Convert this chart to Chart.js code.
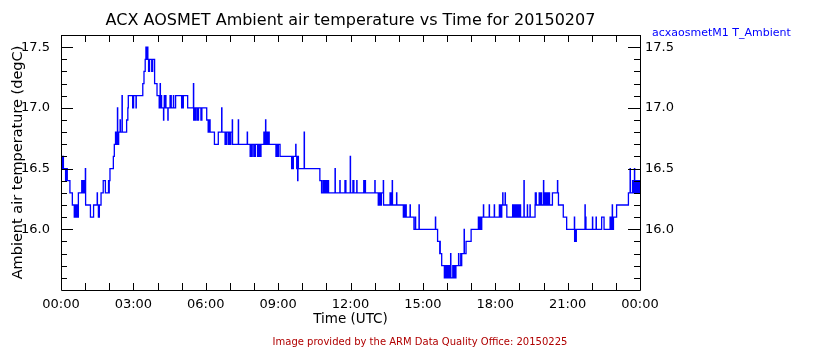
<!DOCTYPE html>
<html>
<head>
<meta charset="utf-8">
<title>ACX AOSMET Ambient air temperature</title>
<script src="https://cdn.jsdelivr.net/npm/chart.js@4.4.1/dist/chart.umd.min.js"></script>
<style>
  html, body { margin: 0; padding: 0; background: #fff; }
  canvas { display: block; }
</style>
</head>
<body>
<canvas id="tempChart" width="840" height="350"></canvas>
<script>
// Axis ticks
const xTickHours = [0, 3, 6, 9, 12, 15, 18, 21, 24];
const xTickLabels = ['00:00', '03:00', '06:00', '09:00', '12:00', '15:00', '18:00', '21:00', '00:00'];
const yTickValues = [16.0, 16.5, 17.0, 17.5];

// acxaosmetM1 T_Ambient, [hour of day (UTC), degC]; each value holds until the next sample
const ambientTemp = [
  [0.00, 16.6], [0.02, 16.5], [0.04, 16.6], [0.06, 16.5], [0.08, 16.6], [0.10, 16.5],
  [0.19, 16.4], [0.21, 16.5], [0.26, 16.4], [0.37, 16.3], [0.47, 16.2], [0.55, 16.1],
  [0.60, 16.2], [0.61, 16.1], [0.63, 16.2], [0.64, 16.1], [0.66, 16.2], [0.67, 16.1],
  [0.72, 16.3], [0.86, 16.4], [0.87, 16.3], [0.92, 16.4], [0.93, 16.3], [0.95, 16.4], [0.96, 16.3],
  [1.01, 16.5], [1.02, 16.2], [1.22, 16.1], [1.35, 16.2], [1.50, 16.3], [1.51, 16.2],
  [1.55, 16.1], [1.56, 16.2], [1.58, 16.1], [1.59, 16.2], [1.66, 16.3], [1.75, 16.4],
  [1.84, 16.3], [1.97, 16.4], [1.99, 16.3], [2.00, 16.4], [2.03, 16.5], [2.17, 16.6], [2.21, 16.7],
  [2.26, 16.8], [2.27, 16.7], [2.29, 16.8], [2.30, 16.7], [2.34, 17.0], [2.35, 16.7], [2.39, 16.8],
  [2.45, 16.9], [2.46, 16.8], [2.53, 17.1], [2.54, 16.8], [2.72, 16.9], [2.77, 17.0], [2.79, 17.1],
  [2.97, 17.0], [2.98, 17.1], [3.00, 17.0], [3.01, 17.1], [3.11, 17.0], [3.12, 17.1],
  [3.39, 17.2], [3.44, 17.3], [3.49, 17.4],
  [3.52, 17.5], [3.53, 17.4], [3.54, 17.5], [3.55, 17.4], [3.56, 17.5], [3.57, 17.4], [3.58, 17.5], [3.60, 17.4],
  [3.63, 17.3], [3.64, 17.4], [3.66, 17.3], [3.67, 17.4], [3.76, 17.3], [3.77, 17.4], [3.79, 17.3], [3.80, 17.4],
  [3.88, 17.2], [3.98, 17.1],
  [4.07, 17.0], [4.08, 17.1], [4.09, 17.0], [4.11, 17.2], [4.12, 17.1], [4.14, 17.0], [4.15, 17.1], [4.17, 17.0],
  [4.25, 16.9], [4.26, 17.0], [4.28, 17.1], [4.29, 17.0], [4.34, 17.1], [4.35, 17.0], [4.43, 16.9], [4.44, 17.0],
  [4.52, 17.1], [4.53, 17.0], [4.54, 17.1], [4.55, 17.0], [4.56, 17.1], [4.57, 17.0], [4.66, 17.1], [4.67, 17.0],
  [4.75, 17.1], [5.00, 17.0], [5.01, 17.1], [5.03, 17.0], [5.04, 17.1], [5.06, 17.0], [5.07, 17.1], [5.25, 17.0],
  [5.49, 17.2], [5.50, 16.9], [5.51, 17.0], [5.53, 16.9], [5.54, 17.0], [5.56, 16.9], [5.57, 17.0],
  [5.63, 16.9], [5.64, 17.0], [5.66, 16.9], [5.67, 17.0], [5.69, 16.9], [5.70, 17.0],
  [5.80, 16.9], [5.81, 17.0], [5.83, 16.9], [5.84, 17.0], [6.04, 16.9],
  [6.10, 16.8], [6.11, 16.9], [6.13, 16.8], [6.14, 16.9], [6.18, 16.8], [6.36, 16.7], [6.52, 16.8],
  [6.66, 17.0], [6.67, 16.8],
  [6.80, 16.7], [6.81, 16.8], [6.83, 16.7], [6.84, 16.8], [6.86, 16.7], [6.87, 16.8],
  [6.94, 16.7], [6.95, 16.8], [6.97, 16.7], [6.98, 16.8], [7.00, 16.7], [7.01, 16.8], [7.03, 16.7], [7.04, 16.8],
  [7.10, 16.9], [7.11, 16.7], [7.35, 16.9], [7.36, 16.7], [7.72, 16.8], [7.73, 16.7],
  [7.84, 16.6], [7.85, 16.7], [7.88, 16.6], [7.89, 16.7], [7.95, 16.6], [7.96, 16.7],
  [8.02, 16.6], [8.03, 16.7], [8.05, 16.6], [8.06, 16.7],
  [8.15, 16.6], [8.16, 16.7], [8.20, 16.6], [8.21, 16.7], [8.24, 16.6], [8.25, 16.7], [8.28, 16.6], [8.29, 16.7],
  [8.41, 16.8], [8.42, 16.7], [8.44, 16.8], [8.45, 16.7], [8.48, 16.9], [8.49, 16.8], [8.50, 16.7],
  [8.52, 16.8], [8.54, 16.7], [8.56, 16.8], [8.57, 16.7], [8.62, 16.8], [8.63, 16.7],
  [8.91, 16.6], [8.92, 16.7], [8.94, 16.6], [8.95, 16.7], [8.97, 16.6], [8.98, 16.7], [9.00, 16.6], [9.01, 16.7],
  [9.08, 16.6],
  [9.56, 16.5], [9.57, 16.6], [9.59, 16.5], [9.60, 16.6], [9.62, 16.5], [9.63, 16.6],
  [9.73, 16.7], [9.74, 16.6], [9.77, 16.5], [9.78, 16.6], [9.81, 16.4], [9.82, 16.6], [9.84, 16.5],
  [10.08, 16.8], [10.09, 16.5], [10.73, 16.4], [10.80, 16.3],
  [10.86, 16.4], [10.87, 16.3], [10.90, 16.4], [10.91, 16.3], [10.93, 16.4], [10.94, 16.3], [10.96, 16.4], [10.97, 16.3],
  [11.02, 16.4], [11.03, 16.3], [11.08, 16.4], [11.09, 16.3], [11.36, 16.5], [11.37, 16.3],
  [11.56, 16.4], [11.57, 16.3], [11.77, 16.4], [11.78, 16.3], [11.80, 16.4], [11.81, 16.3],
  [11.99, 16.6], [12.00, 16.3], [12.10, 16.4], [12.11, 16.3], [12.13, 16.4], [12.14, 16.3], [12.26, 16.4], [12.27, 16.3],
  [12.55, 16.4], [12.56, 16.3], [12.58, 16.4], [12.59, 16.3], [12.61, 16.4], [12.62, 16.3], [13.01, 16.4], [13.02, 16.3],
  [13.15, 16.2], [13.16, 16.3], [13.18, 16.2], [13.19, 16.3], [13.21, 16.2], [13.22, 16.3],
  [13.24, 16.2], [13.25, 16.3], [13.27, 16.2], [13.28, 16.3], [13.36, 16.4], [13.37, 16.2],
  [13.64, 16.3], [13.65, 16.2], [13.67, 16.3], [13.68, 16.2], [13.70, 16.3], [13.71, 16.2],
  [13.73, 16.4], [13.74, 16.2], [13.91, 16.3], [13.92, 16.2],
  [14.19, 16.1], [14.20, 16.2], [14.22, 16.1], [14.23, 16.2], [14.25, 16.1], [14.26, 16.2],
  [14.28, 16.1], [14.29, 16.2], [14.31, 16.1], [14.47, 16.2], [14.48, 16.1], [14.63, 16.0],
  [14.69, 16.1], [14.70, 16.0], [14.84, 16.2], [14.85, 16.0], [15.52, 16.1], [15.53, 16.0],
  [15.61, 15.9], [15.70, 15.8], [15.71, 15.9], [15.72, 15.8], [15.78, 15.7], [15.89, 15.6],
  [15.92, 15.7], [15.93, 15.6], [15.95, 15.7], [15.96, 15.6], [15.98, 15.7], [15.99, 15.6],
  [16.01, 15.7], [16.02, 15.6], [16.04, 15.7], [16.05, 15.6], [16.07, 15.7], [16.08, 15.6], [16.10, 15.7], [16.11, 15.6],
  [16.15, 15.8], [16.16, 15.6],
  [16.24, 15.7], [16.25, 15.6], [16.27, 15.7], [16.28, 15.6], [16.30, 15.7], [16.31, 15.6], [16.33, 15.7], [16.34, 15.6],
  [16.37, 15.7], [16.48, 15.8], [16.49, 15.7], [16.57, 15.8], [16.58, 15.7], [16.61, 15.8],
  [16.71, 16.0], [16.72, 15.8], [16.79, 15.9], [17.00, 16.0],
  [17.30, 16.1], [17.31, 16.0], [17.33, 16.1], [17.34, 16.0], [17.36, 16.1], [17.37, 16.0], [17.39, 16.1], [17.40, 16.0],
  [17.44, 16.1], [17.51, 16.2], [17.52, 16.1], [17.75, 16.2], [17.76, 16.1], [17.96, 16.2], [17.97, 16.1],
  [18.17, 16.2], [18.18, 16.1], [18.20, 16.2], [18.21, 16.1], [18.23, 16.2], [18.24, 16.1], [18.27, 16.2],
  [18.31, 16.3], [18.32, 16.2], [18.41, 16.3], [18.42, 16.2], [18.48, 16.1],
  [18.72, 16.2], [18.73, 16.1], [18.76, 16.2], [18.77, 16.1], [18.80, 16.2], [18.81, 16.1], [18.84, 16.2], [18.85, 16.1],
  [18.88, 16.2], [18.89, 16.1], [18.92, 16.2], [18.93, 16.1], [18.98, 16.2], [18.99, 16.1], [19.04, 16.2], [19.05, 16.1],
  [19.19, 16.4], [19.20, 16.1], [19.33, 16.2], [19.34, 16.1], [19.44, 16.2], [19.45, 16.1],
  [19.65, 16.2], [19.66, 16.3], [19.67, 16.2], [19.69, 16.3], [19.70, 16.2],
  [19.82, 16.3], [19.83, 16.2], [19.85, 16.3], [19.86, 16.2], [19.88, 16.3], [19.89, 16.2], [19.91, 16.3], [19.92, 16.2],
  [20.00, 16.4], [20.01, 16.2],
  [20.06, 16.3], [20.07, 16.2], [20.09, 16.3], [20.10, 16.2], [20.12, 16.3], [20.13, 16.2], [20.15, 16.3], [20.16, 16.2],
  [20.18, 16.3], [20.19, 16.2], [20.21, 16.3], [20.22, 16.2], [20.24, 16.3], [20.25, 16.2],
  [20.37, 16.3], [20.58, 16.4], [20.59, 16.3], [20.62, 16.2], [20.82, 16.1], [20.96, 16.0],
  [21.28, 16.1], [21.29, 15.9], [21.30, 16.0], [21.31, 15.9], [21.33, 16.0], [21.34, 15.9], [21.36, 16.0],
  [21.72, 16.2], [21.73, 16.0], [21.75, 16.1], [21.76, 16.0], [22.03, 16.1], [22.04, 16.0], [22.18, 16.1], [22.19, 16.0],
  [22.41, 16.1], [22.51, 16.0], [22.76, 16.1], [22.77, 16.0], [22.79, 16.1], [22.80, 16.0],
  [22.85, 16.2], [22.86, 16.0], [22.90, 16.1], [23.03, 16.2], [23.52, 16.3], [23.59, 16.5], [23.60, 16.3],
  [23.69, 16.4], [23.70, 16.3], [23.72, 16.4], [23.73, 16.3], [23.77, 16.5], [23.78, 16.4],
  [23.80, 16.3], [23.82, 16.4], [23.84, 16.3], [23.86, 16.4], [23.88, 16.3], [23.90, 16.4],
  [23.92, 16.3], [23.94, 16.4], [23.96, 16.3], [23.98, 16.4], [24.00, 16.3]
];

const FONT = 'DejaVu Sans';

// Box around the plot, inward ticks on all four sides, and the loose text
const plotFrame = {
  id: 'plotFrame',
  afterDatasetsDraw(chart) {
    const { ctx, chartArea: a, scales } = chart;
    ctx.save();
    ctx.strokeStyle = '#000';
    ctx.lineWidth = 1;
    ctx.beginPath();
    ctx.rect(a.left + 0.5, a.top + 0.5, a.right - a.left, a.bottom - a.top);
    // one tick per hour, top and bottom
    for (let h = 0; h <= 24; h++) {
      const x = Math.round(scales.x.getPixelForValue(h)) + 0.5;
      ctx.moveTo(x, a.bottom); ctx.lineTo(x, a.bottom - 7);
      ctx.moveTo(x, a.top); ctx.lineTo(x, a.top + 7);
    }
    // 0.1 degC ticks, longer on the labelled ones
    for (let i = 156; i <= 175; i++) {
      const y = Math.round(scales.y.getPixelForValue(i / 10)) + 0.5;
      const len = i % 5 === 0 ? 12 : 6;
      ctx.moveTo(a.left, y); ctx.lineTo(a.left + len, y);
      ctx.moveTo(a.right, y); ctx.lineTo(a.right - len, y);
    }
    ctx.stroke();

    ctx.textBaseline = 'middle';
    ctx.textAlign = 'center';
    ctx.fillStyle = '#000';
    ctx.font = `16px "${FONT}"`;
    ctx.fillText('ACX AOSMET Ambient air temperature vs Time for 20150207', (a.left + a.right) / 2, 21);

    ctx.fillStyle = '#b00000';
    ctx.font = `10px "${FONT}"`;
    ctx.fillText('Image provided by the ARM Data Quality Office: 20150225', 420, 342);

    ctx.textAlign = 'left';
    ctx.fillStyle = '#0000ff';
    ctx.font = `11px "${FONT}"`;
    ctx.fillText('acxaosmetM1 T_Ambient', 652, 33);
    ctx.restore();
  }
};

const tickFont = { family: FONT, size: 13 };

new Chart(document.getElementById('tempChart'), {
  type: 'line',
  data: {
    datasets: [{
      label: 'acxaosmetM1 T_Ambient',
      data: ambientTemp.map(([h, t]) => ({ x: h, y: t })),
      borderColor: '#0000ff',
      borderWidth: 1.3,
      pointRadius: 0,
      stepped: true,
      fill: false
    }]
  },
  options: {
    responsive: false,
    animation: false,
    devicePixelRatio: 1,
    layout: { padding: { top: 35 } },
    plugins: {
      legend: { display: false },
      tooltip: { enabled: false }
    },
    scales: {
      x: {
        type: 'linear',
        min: 0,
        max: 24,
        afterBuildTicks: s => { s.ticks = xTickHours.map(v => ({ value: v })); },
        afterFit: s => { s.height = 60; },
        ticks: {
          font: tickFont, color: '#000', padding: 7, maxRotation: 0, autoSkip: false,
          callback: (v, i) => xTickLabels[i]
        },
        grid: { display: false, drawTicks: false },
        border: { display: false },
        title: {
          display: true, text: 'Time (UTC)', color: '#000',
          font: { family: FONT, size: 13.5 }, padding: { top: 0, bottom: 22 }
        }
      },
      y: {
        position: 'left',
        min: 15.5,
        max: 17.6,
        afterBuildTicks: s => { s.ticks = yTickValues.map(v => ({ value: v })); },
        afterFit: s => { s.width = 61; },
        ticks: { font: tickFont, color: '#000', padding: 11, callback: v => v.toFixed(1) },
        grid: { display: false, drawTicks: false },
        border: { display: false },
        title: {
          display: true, text: 'Ambient air temperature (degC)', color: '#000',
          font: { family: FONT, size: 14.5 }, padding: { top: 10, bottom: 0 }
        }
      },
      y2: {
        position: 'right',
        min: 15.5,
        max: 17.6,
        afterBuildTicks: s => { s.ticks = yTickValues.map(v => ({ value: v })); },
        afterFit: s => { s.width = 200; },
        ticks: { font: tickFont, color: '#000', padding: 5, callback: v => v.toFixed(1) },
        grid: { display: false, drawTicks: false },
        border: { display: false }
      }
    }
  },
  plugins: [plotFrame]
});
</script>
</body>
</html>
